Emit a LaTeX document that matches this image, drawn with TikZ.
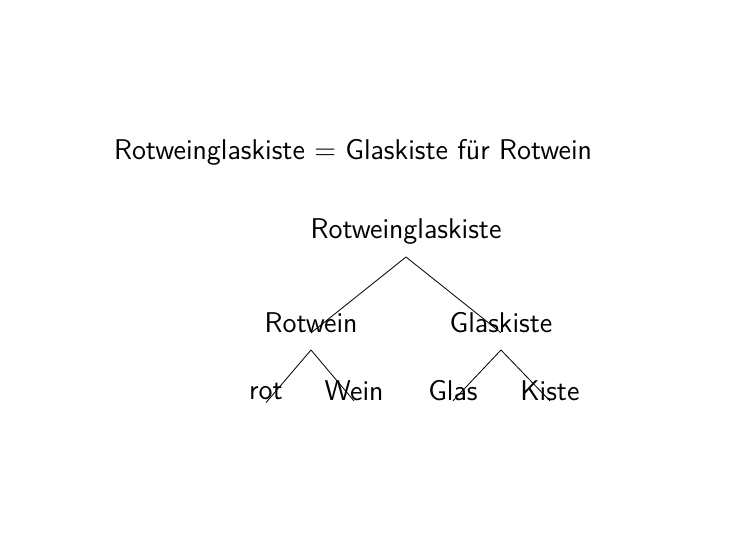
\documentclass[tikz,border=0pt]{standalone}
\usepackage{fontspec}
\begin{document}
\begin{tikzpicture}[x=0.01723cm, y=-0.01723cm,
    word/.style={font=\sffamily\fontsize{14}{17}\selectfont, inner sep=0pt},
    branch/.style={thin}]
    \useasboundingbox (0,0) rectangle (743,557);

    % Equation
    \node[word] (eq) at (353,152) {Rotweinglaskiste = Glaskiste für Rotwein};

    % Tree
    \node[word] (root) at (406,232) {Rotweinglaskiste};
    \node[word] (rotwein) at (311,323) {Rotwein};
    \node[word] (glaskiste) at (501,323) {Glaskiste};
    \node[word] (rot) at (266,391) {rot};
    \node[word] (wein) at (354,391) {Wein};
    \node[word] (glas) at (453,391) {Glas};
    \node[word] (kiste) at (550,391) {Kiste};

    \coordinate (rootb) at (406,257);
    \coordinate (rotweinb) at (311,350);
    \coordinate (glaskisteb) at (501,350);

    \draw[branch] (rootb) -- ([yshift=-10pt]rotwein.north);
    \draw[branch] (rootb) -- ([yshift=-10pt]glaskiste.north);
    \draw[branch] (rotweinb) -- ([yshift=-10pt]rot.north);
    \draw[branch] (rotweinb) -- ([yshift=-10pt]wein.north);
    \draw[branch] (glaskisteb) -- ([yshift=-10pt]glas.north);
    \draw[branch] (glaskisteb) -- ([yshift=-10pt]kiste.north);
\end{tikzpicture}
\end{document}
